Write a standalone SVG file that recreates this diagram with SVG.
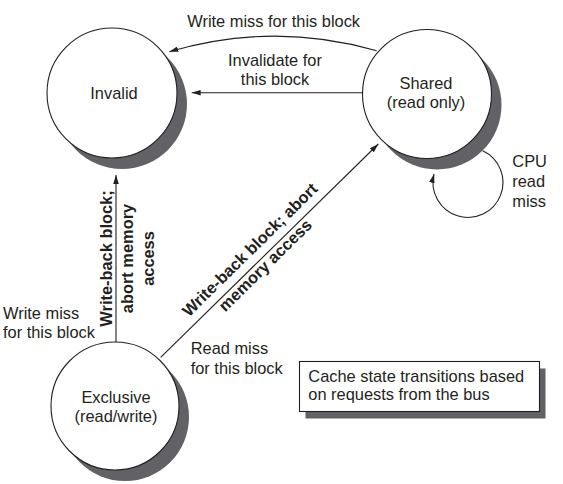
<svg xmlns="http://www.w3.org/2000/svg" width="563" height="484" viewBox="0 0 563 484">
  <style>
    text { font-family: "Liberation Sans", Arial, Helvetica, sans-serif; font-size: 16.4px; fill: #231f20; }
    .b { font-weight: bold; }
    .mid { text-anchor: middle; }
    .state { fill: #ffffff; stroke: #231f20; stroke-width: 1.1; }
    .shadow { fill: #616166; stroke: none; }
    .edge { fill: none; stroke: #231f20; stroke-width: 1.1; marker-end: url(#arr); }
  </style>
  <defs>
    <marker id="arr" markerUnits="userSpaceOnUse" markerWidth="9" markerHeight="5.6" refX="9" refY="2.8" orient="auto">
      <path d="M0,0 L9,2.8 L0,5.6 z" fill="#231f20"/>
    </marker>
  </defs>
  <rect width="563" height="484" fill="#ffffff"/>

  <g id="invalid">
    <circle class="shadow" cx="122" cy="104" r="65"/>
    <circle class="state" cx="112" cy="93" r="65"/>
    <text class="mid" x="114" y="99">Invalid</text>
  </g>

  <g id="shared">
    <circle class="shadow" cx="437" cy="105" r="64.5"/>
    <circle class="state" cx="427" cy="94" r="64.5"/>
    <text class="mid" x="426" y="89.3">Shared</text>
    <text class="mid" x="426" y="108">(read only)</text>
  </g>

  <g id="exclusive">
    <circle class="shadow" cx="125" cy="417" r="64"/>
    <circle class="state" cx="115" cy="406" r="64"/>
    <text class="mid" x="116" y="403.3">Exclusive</text>
    <text class="mid" x="116" y="422">(read/write)</text>
  </g>

  <g id="legend">
    <rect x="305.5" y="368.5" width="240" height="50" fill="#616166"/>
    <rect x="299.5" y="361.5" width="240" height="50" fill="#ffffff" stroke="#231f20" stroke-width="1.1"/>
    <text x="308.3" y="381.7">Cache state transitions based</text>
    <text x="308.3" y="400">on requests from the bus</text>
  </g>

  <g id="connectors">
    <path class="edge" d="M376.7,50.7 Q273,21 169.3,51.7"/>
    <path class="edge" d="M362.7,92.7 L191.7,92.7"/>
    <path class="edge" d="M116,342 L116,175"/>
    <path class="edge" d="M160.7,357.3 L378.3,144"/>
    <path class="edge" d="M482.7,150.7 A35,35 0 1 1 434,174"/>
  </g>

  <g id="labels">
    <text x="187.3" y="27.3">Write miss for this block</text>
    <text class="mid" x="275" y="65.7">Invalidate for</text>
    <text class="mid" x="275" y="85">this block</text>
    <text x="512.3" y="167">CPU</text>
    <text x="512.3" y="186.7">read</text>
    <text x="512.3" y="206.7">miss</text>
    <text x="3" y="319.3">Write miss</text>
    <text x="3" y="338.3">for this block</text>
    <text x="190.7" y="354">Read miss</text>
    <text x="190.7" y="374">for this block</text>
    <g transform="translate(0,258.5) rotate(-90)">
      <text class="b mid" x="0" y="111.5">Write-back block;</text>
      <text class="b mid" x="0" y="133">abort memory</text>
      <text class="b mid" x="0" y="153.5">access</text>
    </g>
    <g transform="translate(260,260) rotate(-44.5)">
      <text class="b mid" x="0" y="-8.8">Write-back block; abort</text>
      <text class="b mid" x="0" y="13">memory access</text>
    </g>
  </g>
</svg>
